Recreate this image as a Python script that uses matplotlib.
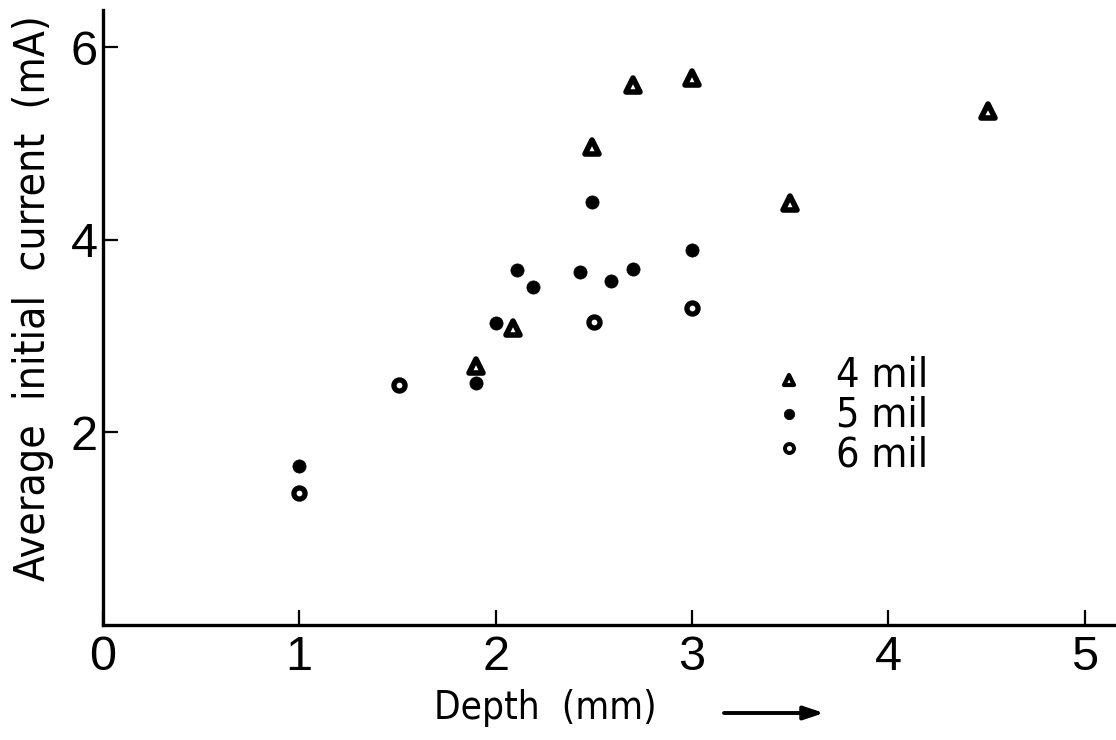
import matplotlib
matplotlib.use("Agg")
import matplotlib.pyplot as plt
from matplotlib import font_manager
from matplotlib.markers import MarkerStyle

# Depth (mm) vs. average initial current (mA) for three wire diameters
mil4_depth = [1.90, 2.09, 2.49, 2.70, 3.00, 3.50, 4.51]
mil4_current = [2.69, 3.08, 4.96, 5.61, 5.68, 4.38, 5.34]

mil5_depth = [1.00, 1.90, 2.00, 2.11, 2.19, 2.43, 2.49, 2.59, 2.70, 3.00]
mil5_current = [1.65, 2.51, 3.14, 3.69, 3.51, 3.67, 4.39, 3.57, 3.70, 3.89]

mil6_depth = [1.00, 1.51, 2.50, 3.00]
mil6_current = [1.37, 2.49, 3.15, 3.29]

series_labels = ["4 mil", "5 mil", "6 mil"]
x_ticks = [0, 1, 2, 3, 4, 5]
y_ticks = [2, 4, 6]

# Prefer a condensed sans for the lettering when one is installed
_fonts = font_manager.fontManager.ttflist
_names = {f.name for f in _fonts}
LETTER_STRETCH = "normal"
if "Liberation Sans Narrow" in _names:
    LETTER = ["Liberation Sans Narrow", "DejaVu Sans"]
elif any(f.name == "DejaVu Sans" and f.stretch == "condensed" for f in _fonts):
    LETTER = ["DejaVu Sans"]
    LETTER_STRETCH = "condensed"
else:
    LETTER = ["Liberation Sans", "DejaVu Sans"]
REGULAR = ["Liberation Sans", "DejaVu Sans"]

W, H = 1116, 740
fig = plt.figure(figsize=(W / 100, H / 100), dpi=100)
ax = fig.add_axes([103 / W, 1 - 625 / H, (W - 103) / W, (625 - 10) / H])
renderer = fig.canvas.get_renderer()


def fit_width(text_artist, target_px, max_size):
    """Set a text artist's font size so its drawn length is target_px."""
    text_artist.set_fontsize(40)
    bb = text_artist.get_window_extent(renderer=renderer)
    width = bb.height if text_artist.get_rotation() == 90 else bb.width
    text_artist.set_fontsize(min(max_size, 40 * target_px / width))


ax.set_xlim(0, (W - 103) / 196.3)
ax.set_ylim(0, (625 - 10) / 96.3)

for side in ("top", "right"):
    ax.spines[side].set_visible(False)
for side in ("left", "bottom"):
    ax.spines[side].set_linewidth(2.4)
    ax.spines[side].set_color("black")

ax.set_xticks(x_ticks)
ax.set_yticks(y_ticks)
ax.set_xticklabels([str(t) for t in x_ticks], fontfamily=REGULAR, fontsize=35)
ax.set_yticklabels([str(t) for t in y_ticks], fontfamily=REGULAR, fontsize=35)
ax.tick_params(axis="both", direction="in", length=11, width=1.6, color="black")
ax.tick_params(axis="x", pad=7)
ax.tick_params(axis="y", pad=4)

tri = MarkerStyle("^", joinstyle="round")
circ = MarkerStyle("o")

ax.plot(mil4_depth, mil4_current, linestyle="none", marker=tri, markersize=10,
        markerfacecolor="white", markeredgecolor="black", markeredgewidth=4.0,
        clip_on=False)
ax.plot(mil5_depth, mil5_current, linestyle="none", marker=circ, markersize=9.5,
        markerfacecolor="black", markeredgecolor="black", markeredgewidth=0.5,
        clip_on=False)
ax.plot(mil6_depth, mil6_current, linestyle="none", marker=circ, markersize=8,
        markerfacecolor="white", markeredgecolor="black", markeredgewidth=3.8,
        clip_on=False)

# Key: a column of markers and a block of labels inside the plotting area
key_x_marker = (789 - 103) / (W - 103)
key_x_text = (836 - 103) / (W - 103)
key_marker_y = [(625 - 380) / 615, (625 - 414) / 615, (625 - 448) / 615]
key_styles = [
    dict(marker=tri, markersize=7, markerfacecolor="white", markeredgecolor="black", markeredgewidth=3.0),
    dict(marker=circ, markersize=7.5, markerfacecolor="black", markeredgecolor="black", markeredgewidth=0.5),
    dict(marker=circ, markersize=6.5, markerfacecolor="white", markeredgecolor="black", markeredgewidth=2.8),
]
for my, st in zip(key_marker_y, key_styles):
    ax.plot([key_x_marker], [my], linestyle="none", transform=ax.transAxes, clip_on=False, **st)

# the baseline anchor of a multi-line block is its last line
key_text = ax.text(key_x_text, (625 - 466) / 615, series_labels[0], transform=ax.transAxes,
                   ha="left", va="baseline", fontfamily=LETTER, fontstretch=LETTER_STRETCH,
                   linespacing=1.0)
fit_width(key_text, 92, 31)
h1 = key_text.get_window_extent(renderer=renderer).height
key_text.set_text("\n".join(series_labels[:2]))
h2 = key_text.get_window_extent(renderer=renderer).height
key_text.set_linespacing(39.5 / (h2 - h1))
key_text.set_text("\n".join(series_labels))

# Axis titles
xt = fig.text(434 / W, 1 - 719 / H, "Depth  (mm)", ha="left", va="baseline",
              fontfamily=LETTER, fontstretch=LETTER_STRETCH)
fit_width(xt, 222, 30)
yt = fig.text(54 / W, 1 - 298 / H, "Average  initial  current  (mA)", rotation=90,
              ha="right", va="center", fontfamily=LETTER, fontstretch=LETTER_STRETCH)
fit_width(yt, 565, 38)

# Direction arrow after the depth title
ax.annotate("", xy=(824, H - 713), xycoords="figure pixels",
            xytext=(724, H - 713), textcoords="figure pixels",
            arrowprops=dict(arrowstyle="-|>,head_length=1.2,head_width=0.4",
                            lw=2.8, color="black", shrinkA=0, shrinkB=0))

fig.savefig("out.png", dpi=100)
